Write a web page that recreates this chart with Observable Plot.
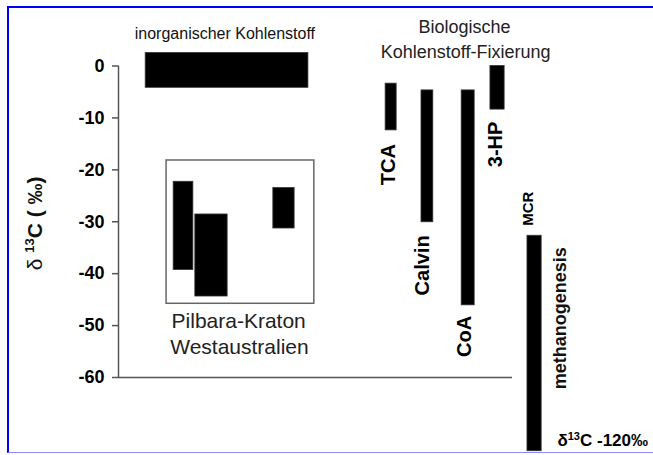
<!DOCTYPE html>
<html><head><meta charset="utf-8">
<script src="https://cdn.jsdelivr.net/npm/d3@7"></script>
<script src="https://cdn.jsdelivr.net/npm/@observablehq/plot@0.6"></script>
<style>
body{margin:0;background:#fff;}
#wrap{position:relative;width:653px;height:455px;overflow:hidden;background:#fff;}
#frame{position:absolute;left:7px;top:6px;width:646px;height:447px;border-top:2px solid #0000ff;border-left:2px solid #0000ff;border-bottom:1px solid #8c8cff;box-sizing:border-box;}
#wrap svg{position:absolute;left:0;top:0;}
</style></head><body><div id="wrap"><div id="frame"></div></div>
<script>
// ---- data ----
const yTicks = [0, -10, -20, -30, -40, -50, -60];
const yDomain = [-60, 0];
const xDomain = [0, 100];

// inorganic carbon
const inorgHigh = [2.5];
const inorgLow = [-4.2];
const inorgStart = [6.9];
const inorgEnd = [48.2];

// Pilbara craton samples
const pilbaraHigh = [-22.3, -28.6, -23.5];
const pilbaraLow = [-39.3, -44.4, -31.3];
const pilbaraStart = [14.0, 19.5, 39.3];
const pilbaraEnd = [19.0, 27.7, 44.7];
const pilbaraBox = {x1: 12.2, x2: 49.7, y1: -45.8, y2: -18.2};

// biological carbon fixation pathways
const pathways = ["TCA", "Calvin", "CoA", "3-HP", "MCR"];
const pathHigh = [-3.4, -4.7, -4.7, 0.0, -32.7];
const pathLow = [-12.4, -30.1, -46.1, -8.4, -74.2];
const pathStart = [67.8, 76.9, 87.1, 94.4, 103.8];
const pathEnd = [70.6, 79.9, 90.4, 98.0, 107.4];
const pathLabelX = [68.5, 77.2, 87.8, 95.7, 104.1];
const pathLabelY = [-19.0, -38.4, -52.1, -15.1, -27.5];

const yLabel = "δ 13C ( ‰)";
const mcrNote = "δ13C -120‰";

// ---- tables ----
const inorg = inorgHigh.map((h, i) => ({hi: h, lo: inorgLow[i], a: inorgStart[i], b: inorgEnd[i]}));
const pilbara = pilbaraHigh.map((h, i) => ({hi: h, lo: pilbaraLow[i], a: pilbaraStart[i], b: pilbaraEnd[i]}));
const path = pathways.map((n, i) => ({name: n, hi: pathHigh[i], lo: pathLow[i], a: pathStart[i], b: pathEnd[i], lx: pathLabelX[i], ly: pathLabelY[i]}));
const bigLabels = path.filter(d => d.name !== "MCR");
const mcr = path.filter(d => d.name === "MCR");

const FONT = "'Liberation Sans', Arial, Helvetica, sans-serif";

const chart = Plot.plot({
  width: 653, height: 455,
  marginLeft: 118, marginRight: 141, marginTop: 65.5, marginBottom: 78,
  x: {domain: xDomain, axis: null},
  y: {domain: yDomain, axis: null},
  style: {fontFamily: FONT, background: "transparent", overflow: "visible", color: "black"},
  marks: [
    Plot.axisY({ticks: yTicks, tickFormat: d => `${d}`, tickSize: 6, tickPadding: 8, fontSize: 18, fontWeight: "bold", stroke: "#555", strokeWidth: 1.5, fill: "black", label: null}),
    Plot.ruleX([xDomain[0]], {y1: yDomain[0], y2: yDomain[1], stroke: "#555", strokeWidth: 1.5}),
    Plot.ruleY([yDomain[0]], {x1: xDomain[0], x2: xDomain[1], stroke: "#555", strokeWidth: 1.5}),
    Plot.rect([pilbaraBox], {x1: "x1", x2: "x2", y1: "y1", y2: "y2", fill: "none", stroke: "#666", strokeWidth: 1.5}),
    Plot.rect(inorg, {x1: "a", x2: "b", y1: "lo", y2: "hi", fill: "black", stroke: "#333", strokeWidth: 0.8}),
    Plot.rect(pilbara, {x1: "a", x2: "b", y1: "lo", y2: "hi", fill: "black", stroke: "#333", strokeWidth: 0.8}),
    Plot.rect(path, {x1: "a", x2: "b", y1: "lo", y2: "hi", fill: "black", stroke: "#333", strokeWidth: 0.8}),
    Plot.text(bigLabels, {x: "lx", y: "ly", text: "name", rotate: -90, fontSize: 20, fontWeight: "bold", fill: "black"}),
    Plot.text(mcr, {x: "lx", y: "ly", text: "name", rotate: -90, fontSize: 15, fontWeight: "bold", fill: "black"}),
    Plot.text(["methanogenesis"], {x: 112.2, y: -48.6, text: d => d, rotate: -90, fontSize: 18, fontWeight: "bold", fill: "#111"}),
    Plot.text([mcrNote], {x: 111.4, y: -72.1, text: d => d, textAnchor: "start", fontSize: 17, fontWeight: "bold", fill: "black"}),
    Plot.text(["inorganischer Kohlenstoff"], {x: 27.0, y: 6.1, text: d => d, fontSize: 16, fill: "#111"}),
    Plot.text(["Biologische"], {x: 87.8, y: 7.4, text: d => d, fontSize: 18, fill: "#222"}),
    Plot.text(["Kohlenstoff-Fixierung"], {x: 88.1, y: 2.6, text: d => d, fontSize: 18, fill: "#222"}),
    Plot.text(["Pilbara-Kraton"], {x: 30.5, y: -49.2, text: d => d, fontSize: 21, fill: "#222"}),
    Plot.text(["Westaustralien"], {x: 30.7, y: -54.2, text: d => d, fontSize: 21, fill: "#222"}),
    Plot.text([yLabel], {x: -21.1, y: -30.3, text: d => d, rotate: -90, fontSize: 21, fill: "#111"})
  ]
});

document.getElementById("wrap").appendChild(chart);

// rich text: superscripts and weights
d3.select(chart).selectAll("text").each(function () {
  const t = this.textContent;
  const sel = d3.select(this);
  if (t === yLabel) {
    sel.text(null);
    sel.append("tspan").attr("font-weight", "normal").text("δ ");
    sel.append("tspan").attr("font-weight", "bold").attr("font-size", 13).attr("dy", -8).text("13");
    sel.append("tspan").attr("font-weight", "bold").attr("dy", 8).text("C ( ‰)");
  } else if (t === mcrNote) {
    sel.text(null);
    sel.append("tspan").text("δ");
    sel.append("tspan").attr("font-size", 11).attr("dy", -6).text("13");
    sel.append("tspan").attr("dy", 6).text("C -120‰");
  }
});
</script></body></html>
